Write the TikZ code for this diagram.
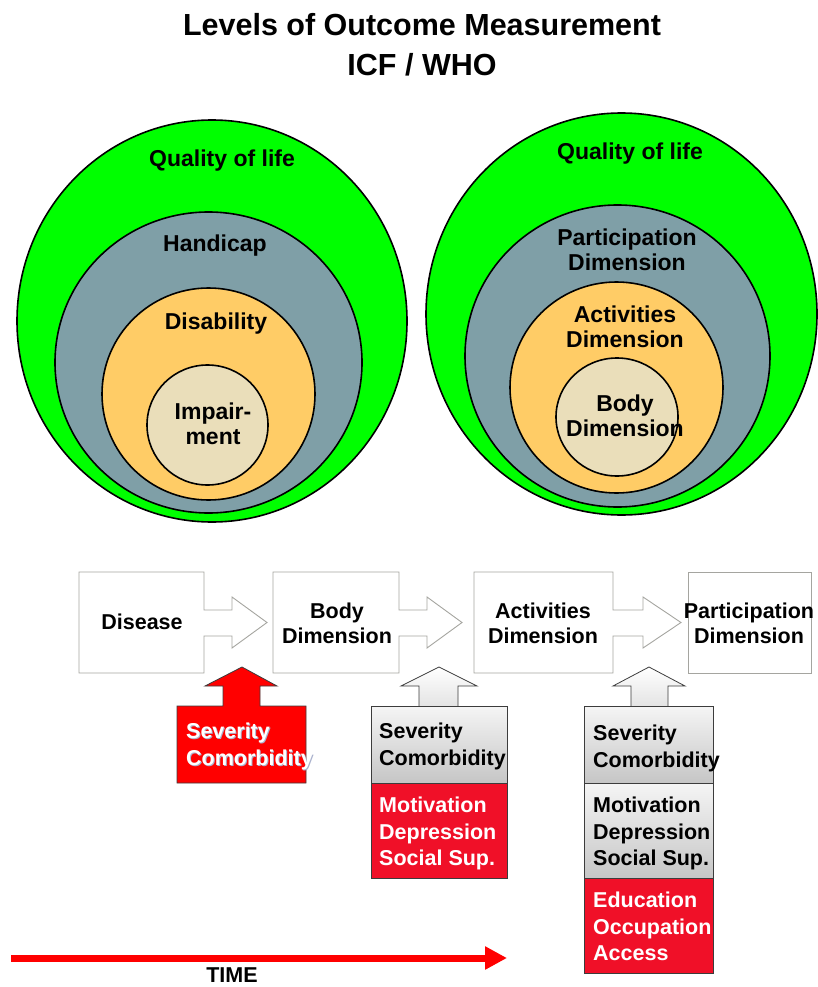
\documentclass[tikz,border=0pt]{standalone}
\usepackage{fontspec}
\setmainfont{Liberation Sans}
\usetikzlibrary{arrows.meta}
\definecolor{qgreen}{RGB}{0,255,0}
\definecolor{hgray}{RGB}{127,159,167}
\definecolor{dorange}{RGB}{255,204,102}
\definecolor{ibeige}{RGB}{234,222,186}
\definecolor{boxline}{RGB}{165,165,160}
\definecolor{redA}{RGB}{255,0,0}
\definecolor{redB}{RGB}{240,16,40}
\definecolor{shadowc}{RGB}{170,178,205}
\definecolor{outl}{RGB}{60,60,60}
\newcommand{\fbshape}[4]{%
  \draw[flowshape] (#1,572) -- (#2,572) -- (#2,610) -- (#3,610) -- (#3,597) -- (#4,622.5)
    -- (#3,648) -- (#3,636) -- (#2,636) -- (#2,673) -- (#1,673) -- cycle;}
\begin{document}
\begin{tikzpicture}[x=1pt,y=-1pt,
  ring/.style={draw=black,line width=1.6pt},
  clabel/.style={font=\bfseries\fontsize{23}{25}\selectfont,align=center,inner sep=0},
  flabel/.style={font=\bfseries\fontsize{21.5}{25}\selectfont,align=center,inner sep=0},
  blabel/.style={font=\bfseries\fontsize{21.5}{26.5}\selectfont,align=left,inner sep=0,anchor=north west},
  flowshape/.style={draw=boxline,fill=white,line width=0.9pt},
  factor/.style={draw=outl,line width=0.8pt},
  grayfill/.style={top color=gray!8,bottom color=gray!45},
  arrowfill/.style={top color=white,bottom color=gray!22}
]
\useasboundingbox (0,0) rectangle (818,987);

% Title
\node[font=\bfseries\fontsize{30.5}{40}\selectfont,align=center,inner sep=0] (title) at (422,45) {Levels of Outcome Measurement\\ICF / WHO};

% Left circles
\draw[ring,fill=qgreen] (212,321) ellipse [x radius=195,y radius=201];
\draw[ring,fill=hgray] (208.5,362.5) ellipse [x radius=153.5,y radius=150.5];
\draw[ring,fill=dorange] (208.5,394) ellipse [x radius=106.5,y radius=106];
\draw[ring,fill=ibeige] (207.5,425) ellipse [x radius=60.5,y radius=60];
\node[clabel] (lq) at (222,161) {Quality of life};
\node[clabel] (lh) at (215,246) {Handicap};
\node[clabel] (ld) at (216,324) {Disability};
\node[clabel] (li) at (213,424) {Impair-\\ment};

% Right circles
\draw[ring,fill=qgreen] (621.5,314) ellipse [x radius=195.5,y radius=201];
\draw[ring,fill=hgray] (617.5,356) ellipse [x radius=152.5,y radius=151];
\draw[ring,fill=dorange] (616.5,387.5) ellipse [x radius=106.5,y radius=105.5];
\draw[ring,fill=ibeige] (617,417) ellipse [x radius=61,y radius=59];
\node[clabel] (rq) at (630,154) {Quality of life};
\node[clabel] (rp) at (627,250) {Participation\\Dimension};
\node[clabel] (ra) at (625,327) {Activities\\Dimension};
\node[clabel] (rb) at (625,416) {Body\\Dimension};

% Flow shapes
\fbshape{79}{204}{232}{267}
\fbshape{273}{399}{427}{462}
\fbshape{474}{613}{643}{681}
\draw[flowshape] (688,572) rectangle (811,673);
\node[flabel] (fdis) at (142,622) {Disease};
\node[flabel] (fbody) at (337,623) {Body\\Dimension};
\node[flabel] (fact) at (543,623) {Activities\\Dimension};
\node[flabel] (fpart) at (749,623) {Participation\\Dimension};

% Factor 1 (red)
\draw[factor,fill=redA] (177,706) -- (223,706) -- (223,686) -- (205,686) -- (242,667) -- (277,686)
  -- (260,686) -- (260,706) -- (306,706) -- (306,783) -- (177,783) -- cycle;
\node[blabel,text=shadowc] (s1sh) at (187,724) {Severity\\Comorbidity};
\node[blabel,text=white] (s1) at (186,723) {Severity\\Comorbidity};

% Factor 2
\draw[factor,arrowfill] (419,707) -- (419,686) -- (401,686) -- (439,667) -- (477,686) -- (458,686) -- (458,707);
\draw[factor,grayfill] (371,706) rectangle (507,783);
\draw[factor,fill=redB] (371,783) rectangle (507,878);
\node[blabel,text=black] (s2) at (379,723) {Severity\\Comorbidity};
\node[blabel,text=white] (m2) at (379,797) {Motivation\\Depression\\Social Sup.};

% Factor 3
\draw[factor,arrowfill] (631,707) -- (631,686) -- (613,686) -- (649,667) -- (685,686) -- (668,686) -- (668,707);
\draw[factor,grayfill] (584,706) rectangle (713,783);
\draw[factor,grayfill] (584,783) rectangle (713,878);
\draw[factor,fill=redB] (584,878) rectangle (713,973);
\node[blabel,text=black] (s3) at (593,725) {Severity\\Comorbidity};
\node[blabel,text=black] (m3) at (593,797) {Motivation\\Depression\\Social Sup.};
\node[blabel,text=white] (e3) at (593,892) {Education\\Occupation\\Access};

% Time arrow
\coordinate (tstart) at (11,958);
\coordinate (tend) at (507,958);
\draw[redA,line width=7pt,-{Triangle[length=22pt,width=22pt]}] (tstart) -- (tend);
\node[flabel] (time) at (232,975) {TIME};
\end{tikzpicture}
\end{document}
